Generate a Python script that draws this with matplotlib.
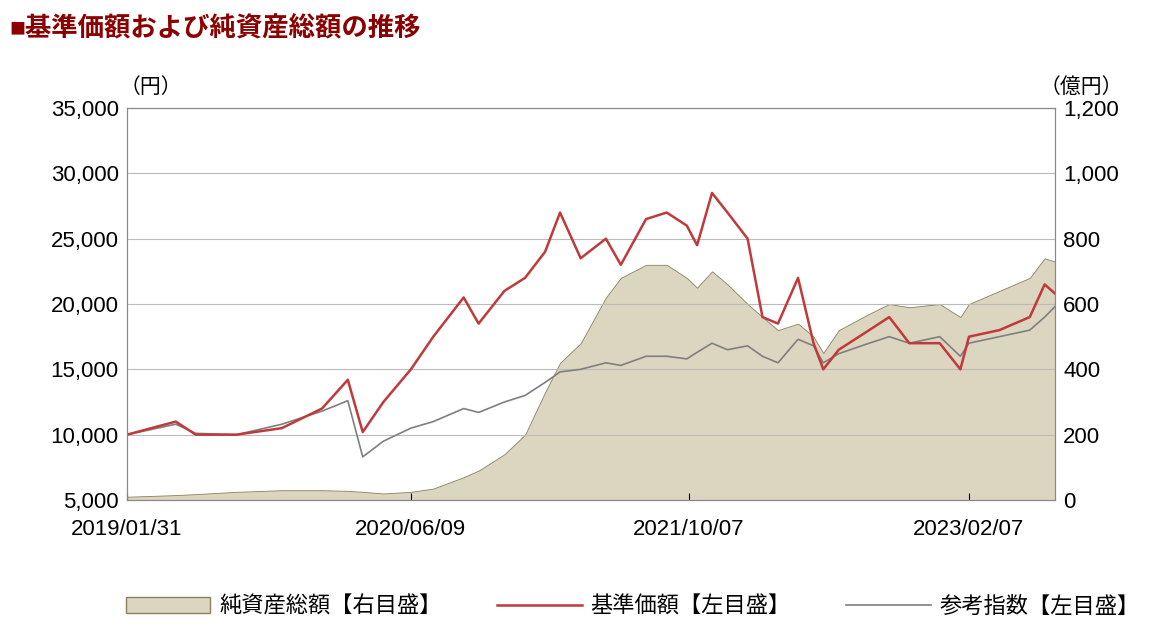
import matplotlib
matplotlib.use("Agg")
import matplotlib.pyplot as plt
import matplotlib.dates as mdates
import numpy as np
from matplotlib.patches import Patch
from matplotlib.lines import Line2D

plt.rcParams["font.family"] = ["Liberation Sans", "Noto Sans CJK JP"]

dates = ["2019-01-31", "2019-04-26", "2019-05-31", "2019-08-10", "2019-10-28", "2020-01-06",
         "2020-02-20", "2020-03-17", "2020-04-22", "2020-06-09", "2020-07-18", "2020-09-09",
         "2020-10-05", "2020-11-19", "2020-12-25", "2021-01-29", "2021-02-24", "2021-04-01",
         "2021-05-15", "2021-06-10", "2021-07-24", "2021-08-29", "2021-10-03", "2021-10-21",
         "2021-11-16", "2021-12-13", "2022-01-17", "2022-02-12", "2022-03-11", "2022-04-15",
         "2022-05-12", "2022-05-29", "2022-06-25", "2022-08-17", "2022-09-21", "2022-10-26",
         "2022-12-18", "2023-01-23", "2023-02-07", "2023-04-01", "2023-05-24", "2023-06-19",
         "2023-07-07"]
nav = [10000, 11000, 10000, 10000, 10500, 12000, 14200, 10200, 12500, 15000, 17500, 20500,
       18500, 21000, 22000, 24000, 27000, 23500, 25000, 23000, 26500, 27000, 26000, 24500,
       28500, 27000, 25000, 19000, 18500, 22000, 17000, 15000, 16500, 18000, 19000, 17000,
       17000, 15000, 17500, 18000, 19000, 21500, 20800]
ref_index = [10000, 10800, 10100, 10000, 10800, 11800, 12600, 8300, 9500, 10500, 11000, 12000,
             11700, 12500, 13000, 14000, 14800, 15000, 15500, 15300, 16000, 16000, 15800, 16300,
             17000, 16500, 16800, 16000, 15500, 17300, 16800, 15500, 16200, 17000, 17500, 17000,
             17500, 16000, 17000, 17500, 18000, 19000, 19800]
aum = [10, 15, 18, 25, 30, 30, 28, 25, 20, 25, 35, 70, 90, 140, 200, 330, 420, 480, 620, 680,
       720, 720, 680, 650, 700, 660, 600, 560, 520, 540, 500, 450, 520, 570, 600, 590, 600, 560,
       600, 640, 680, 740, 730]
tick_dates = ["2019-01-31", "2020-06-09", "2021-10-07", "2023-02-07"]
tick_labels = ["2019/01/31", "2020/06/09", "2021/10/07", "2023/02/07"]

x = mdates.datestr2num(dates)

fig = plt.figure(figsize=(11.61, 6.38), dpi=100)
ax = fig.add_axes([127/1161, 138/638, 928/1161, 392/638])
ax2 = ax.twinx()
ax.set_zorder(2)
ax.patch.set_visible(False)

ax2.fill_between(x, 0, aum, color="#dcd6c0", edgecolor="#8a8060", linewidth=0.6)
ax2.set_ylim(0, 1200)
ax2.set_yticks(np.arange(0, 1201, 200))
ax2.set_yticklabels([f"{v:,}" for v in range(0, 1201, 200)])

ax.plot(x, ref_index, color="#7f7f7f", lw=1.2)
ax.plot(x, nav, color="#c0393b", lw=1.8)
ax.set_ylim(5000, 35000)
ax.set_yticks(np.arange(5000, 35001, 5000))
ax.set_yticklabels([f"{v:,}" for v in range(5000, 35001, 5000)])
ax.set_xlim(x[0], x[-1])
ax.set_xticks(mdates.datestr2num(tick_dates))
ax.set_xticklabels(tick_labels)
ax.yaxis.grid(True, color="#bbbbbb", lw=0.8)

for a in (ax, ax2):
    a.tick_params(labelsize=16, length=0, pad=6)
    for s in a.spines.values():
        s.set_color("#888888")
ax.tick_params(axis="x", length=5, direction="in", pad=14)

fig.text(0.13, 0.855, "（円）", fontsize=15, ha="center")
fig.text(0.895, 0.855, "（億円）", fontsize=15, ha="left")
fig.text(0.008, 0.955, "■基準価額および純資産総額の推移", fontsize=19, color="#8b0000",
         fontweight="bold", va="center")

handles = [Patch(facecolor="#dcd6c0", edgecolor="#8a8060"),
           Line2D([], [], color="#c0393b", lw=1.8),
           Line2D([], [], color="#7f7f7f", lw=1.2)]
fig.legend(handles, ["純資産総額【右目盛】", "基準価額【左目盛】", "参考指数【左目盛】"],
           loc="lower center", bbox_to_anchor=(0.545, 0.0), ncol=3, frameon=False,
           fontsize=16, handlelength=3.8, handletextpad=0.4, columnspacing=2.5)

fig.savefig("out.png")
